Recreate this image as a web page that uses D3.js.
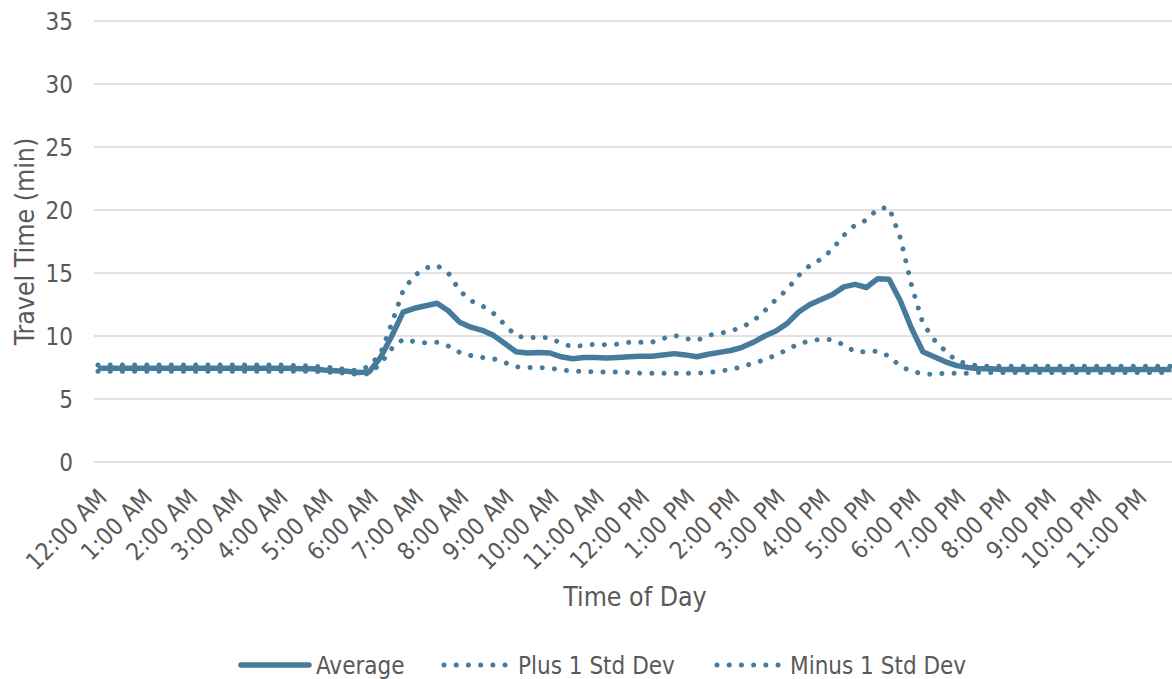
<!DOCTYPE html>
<html>
<head>
<meta charset="utf-8">
<script src="https://cdn.jsdelivr.net/npm/d3@7"></script>
<style>
  html, body { margin: 0; padding: 0; background: #ffffff; }
  svg { display: block; }
  text { font-family: "DejaVu Sans Condensed", "DejaVu Sans", sans-serif; font-stretch: condensed; fill: #595959; }
</style>
</head>
<body>
<svg id="chart" width="1172" height="679"></svg>
<script>
// ---------------- DATA ----------------
// 96 quarter-hour intervals, 12:00 AM .. 11:45 PM
const hourLabels = ["12:00 AM","1:00 AM","2:00 AM","3:00 AM","4:00 AM","5:00 AM","6:00 AM","7:00 AM",
  "8:00 AM","9:00 AM","10:00 AM","11:00 AM","12:00 PM","1:00 PM","2:00 PM","3:00 PM","4:00 PM",
  "5:00 PM","6:00 PM","7:00 PM","8:00 PM","9:00 PM","10:00 PM","11:00 PM"];
const quarterMinutes = ["00","15","30","45"];
const categories = hourLabels.flatMap(h => quarterMinutes.map(m => h.replace(":00", ":" + m)));

const average = [
  7.45,7.45,7.45,7.45, 7.45,7.45,7.45,7.45, 7.45,7.45,7.45,7.45, 7.45,7.45,7.45,7.45,
  7.45,7.45,7.4,7.4,   7.3,7.25,7.2,7.1,
  7.15,8.3,10.0,11.9,  12.2,12.4,12.6,12.0,  11.1,10.7,10.45,10.05, 9.4,8.75,8.65,8.7,
  8.65,8.35,8.2,8.3,   8.3,8.25,8.3,8.35,   8.4,8.4,8.5,8.6,   8.5,8.35,8.55,8.7,
  8.85,9.1,9.5,10.0,   10.4,11.0,11.9,12.5,  12.9,13.3,13.9,14.1, 13.85,14.55,14.5,12.8,
  10.6,8.75,8.35,7.95, 7.65,7.5,7.4,7.4,   7.35,7.35,7.35,7.35, 7.35,7.35,7.35,7.35,
  7.35,7.35,7.35,7.35, 7.35,7.35,7.35,7.35
];
const plus1 = [
  7.7,7.7,7.7,7.7, 7.7,7.7,7.7,7.7, 7.7,7.7,7.7,7.7, 7.7,7.7,7.7,7.7,
  7.7,7.65,7.65,7.6,  7.55,7.45,7.35,7.25,
  7.6,8.6,11.0,13.6,  14.8,15.4,15.6,15.0,  13.6,12.8,12.4,11.8,  10.9,10.0,9.85,9.9,
  9.85,9.4,9.15,9.25, 9.35,9.3,9.35,9.5,   9.5,9.5,9.8,10.05,  9.8,9.65,10.05,10.2,
  10.4,10.7,11.2,12.0, 12.9,13.7,14.8,15.6, 16.1,16.9,18.0,18.8, 19.2,20.1,20.2,17.8,
  14.0,11.0,9.7,8.8,  8.0,7.8,7.6,7.6,   7.6,7.6,7.6,7.6, 7.6,7.6,7.6,7.6,
  7.6,7.6,7.6,7.6, 7.6,7.6,7.6,7.6
];
const minus1 = [
  7.2,7.2,7.2,7.2, 7.2,7.2,7.2,7.2, 7.2,7.2,7.2,7.2, 7.2,7.2,7.2,7.2,
  7.2,7.2,7.2,7.2,   7.15,7.1,7.05,6.95,
  7.0,7.8,9.0,9.75,  9.55,9.45,9.5,9.2,   8.7,8.45,8.3,8.2,   7.9,7.55,7.5,7.5,
  7.45,7.3,7.2,7.2,  7.15,7.15,7.15,7.1,  7.05,7.05,7.05,7.05, 7.05,7.05,7.1,7.2,
  7.35,7.55,7.85,8.1, 8.5,8.9,9.4,9.6,   9.75,9.7,9.3,8.75,  8.75,8.8,8.4,7.6,
  7.2,7.0,6.95,7.05, 7.05,7.05,7.1,7.1,  7.1,7.1,7.1,7.1, 7.1,7.1,7.1,7.1,
  7.1,7.1,7.1,7.1, 7.1,7.1,7.1,7.1
];
const yTicks = [0, 5, 10, 15, 20, 25, 30, 35];
const seriesNames = ["Average", "Plus 1 Std Dev", "Minus 1 Std Dev"];

// ---------------- LAYOUT ----------------
const W = 1172, H = 679;
const plotLeft = 94, plotRight = 1172, plotTop = 21, plotBottom = 462;
const color = "#477b9b";
const gridColor = "#d9d9d9";
const fontSize = 24;
const titleSize = 26.5;

const svg = d3.select("#chart");

const x = d3.scalePoint()
  .domain(categories)
  .range([98, 1171.5]);

const y = d3.scaleLinear()
  .domain([0, 35])
  .range([plotBottom, plotTop]);

// Gridlines
svg.append("g")
  .selectAll("line")
  .data(yTicks)
  .join("line")
  .attr("x1", plotLeft).attr("x2", plotRight)
  .attr("y1", d => y(d)).attr("y2", d => y(d))
  .attr("stroke", gridColor).attr("stroke-width", 1.6);

// Y axis labels
const yAxis = d3.axisLeft(y).tickValues(yTicks).tickSize(0).tickPadding(0);
const gy = svg.append("g").attr("transform", "translate(73,0)").call(yAxis);
gy.select(".domain").remove();
gy.selectAll("text")
  .attr("font-size", fontSize)
  .attr("fill", "#595959")
  .attr("font-family", null)
  .attr("dy", "0.36em");

// X axis labels (every hour)
const xAxis = d3.axisBottom(x)
  .tickValues(categories.filter((d, i) => i % 4 === 0))
  .tickFormat((d, i) => hourLabels[i])
  .tickSize(0);
const gx = svg.append("g").attr("transform", "translate(0," + plotBottom + ")").call(xAxis);
gx.select(".domain").remove();
gx.selectAll("text")
  .attr("font-size", fontSize)
  .attr("fill", "#595959")
  .attr("font-family", null)
  .attr("text-anchor", "end")
  .attr("y", 0).attr("dy", 0)
  .attr("transform", "translate(10,37) rotate(-45)");

// Lines
const line = d3.line()
  .x((d, i) => x(categories[i]))
  .y(d => y(d));

const dotted = "0.01 12.2";

svg.append("path").datum(plus1)
  .attr("d", line).attr("fill", "none")
  .attr("stroke", color).attr("stroke-width", 5)
  .attr("stroke-linecap", "round").attr("stroke-dasharray", dotted);

svg.append("path").datum(minus1)
  .attr("d", line).attr("fill", "none")
  .attr("stroke", color).attr("stroke-width", 5)
  .attr("stroke-linecap", "round").attr("stroke-dasharray", dotted);

svg.append("path").datum(average)
  .attr("d", line).attr("fill", "none")
  .attr("stroke", color).attr("stroke-width", 5.5)
  .attr("stroke-linejoin", "round").attr("stroke-linecap", "butt");

// Axis titles
svg.append("text")
  .attr("x", 635).attr("y", 606)
  .attr("text-anchor", "middle")
  .attr("font-size", titleSize)
  .text("Time of Day");

svg.append("text")
  .attr("transform", "translate(34," + ((plotTop + plotBottom) / 2) + ") rotate(-90)")
  .attr("text-anchor", "middle")
  .attr("font-size", titleSize)
  .text("Travel Time (min)");

// Legend
const legendY = 665;
const legendItems = [
  { name: seriesNames[0], x1: 241, x2: 309, tx: 316, dash: null },
  { name: seriesNames[1], x1: 444, x2: 508, tx: 518, dash: dotted },
  { name: seriesNames[2], x1: 717, x2: 781, tx: 790, dash: dotted }
];
const lg = svg.append("g");
legendItems.forEach(it => {
  lg.append("line")
    .attr("x1", it.x1).attr("x2", it.x2)
    .attr("y1", legendY).attr("y2", legendY)
    .attr("stroke", color)
    .attr("stroke-width", it.dash ? 5 : 5.5)
    .attr("stroke-linecap", "round")
    .attr("stroke-dasharray", it.dash);
  lg.append("text")
    .attr("x", it.tx).attr("y", legendY)
    .attr("dy", "0.36em")
    .attr("font-size", fontSize)
    .text(it.name);
});
</script>
</body>
</html>
